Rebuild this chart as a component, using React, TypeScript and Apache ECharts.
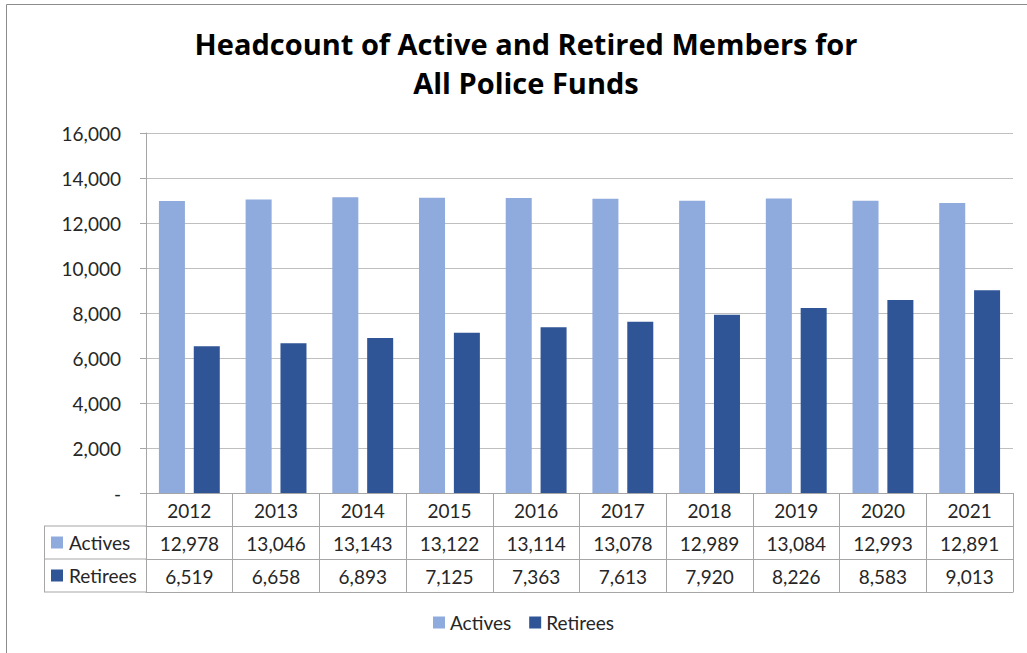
import React, { useEffect, useRef } from "react";
import * as echarts from "echarts";

const categories = ["2012", "2013", "2014", "2015", "2016", "2017", "2018", "2019", "2020", "2021"];
const actives = [12978, 13046, 13143, 13122, 13114, 13078, 12989, 13084, 12993, 12891];
const retirees = [6519, 6658, 6893, 7125, 7363, 7613, 7920, 8226, 8583, 9013];
const seriesNames = ["Actives", "Retirees"];
const yTicks = { min: 0, max: 16000, interval: 2000 };
const titleLines = ["Headcount of Active and Retired Members for", "All Police Funds"];

const COLORS = ["#8FAADC", "#2F5597"];
const FONT = "Lato, 'Open Sans', sans-serif";
const TITLE_FONT = "'Open Sans', Lato, sans-serif";
const TEXT = "#262626";
const LINE = "#A6A6A6";

const GRID_LEFT = 146;
const GRID_RIGHT = 14;
const GRID_TOP = 133;
const GRID_BOTTOM_Y = 493;
const ROW_H = 33;
const TABLE_LEFT = 44;

const fmt = (v: number) => v.toLocaleString("en-US");

export default function App() {
  const ref = useRef<HTMLDivElement>(null);
  useEffect(() => {
    if (!ref.current) return;
    const chart = echarts.init(ref.current, null, { renderer: "svg" });
    const H = 653;
    const rowTop = (i: number) => GRID_BOTTOM_Y + ROW_H * i;
    const labelStyle = { fontFamily: FONT, fontSize: 19, color: TEXT };
    const graphic: any[] = [
      {
        type: "rect",
        shape: { x: 6.5, y: 4.5, width: 1100, height: 700 },
        style: { fill: "none", stroke: "#8C8C8C", lineWidth: 1 },
        silent: true,
      },
      {
        type: "line",
        shape: { x1: TABLE_LEFT + 0.5, y1: rowTop(1), x2: TABLE_LEFT + 0.5, y2: rowTop(3) },
        style: { stroke: LINE, lineWidth: 1 },
      },
    ];
    [1, 2, 3].forEach((i) => {
      graphic.push({
        type: "line",
        shape: { x1: TABLE_LEFT, y1: rowTop(i), x2: GRID_LEFT, y2: rowTop(i) },
        style: { stroke: LINE, lineWidth: 1 },
      });
    });
    seriesNames.forEach((name, i) => {
      const cy = rowTop(i + 1) + ROW_H / 2;
      graphic.push({
        type: "rect",
        shape: { x: 51, y: cy - 6, width: 12, height: 12 },
        style: { fill: COLORS[i] },
      });
      graphic.push({
        type: "text",
        x: 69,
        y: cy,
        style: { text: name, fill: TEXT, font: `19px ${FONT}`, textVerticalAlign: "middle", verticalAlign: "middle" },
      });
    });

    const tableAxis = (offset: number, formatter: any, showLabel = true) => ({
      type: "category",
      data: categories,
      position: "bottom",
      offset,
      axisLine: { show: true, lineStyle: { color: LINE, width: 1 } },
      axisTick: { show: false },
      axisLabel: { show: showLabel, ...labelStyle, margin: 8, formatter },
      splitLine: { show: false },
    });

    chart.setOption({
      animation: false,
      backgroundColor: "#ffffff",
      title: {
        text: titleLines.join("\n"),
        left: 521,
        top: 19,
        textAlign: "center",
        textStyle: { fontFamily: TITLE_FONT, fontSize: 29, fontWeight: "bold", color: "#000000", lineHeight: 39 },
      },
      legend: {
        data: seriesNames,
        left: 428,
        top: 608,
        itemWidth: 12,
        itemHeight: 12,
        itemGap: 18,
        icon: "rect",
        textStyle: { fontFamily: FONT, fontSize: 19, color: TEXT },
      },
      grid: { left: GRID_LEFT, right: GRID_RIGHT, top: GRID_TOP, bottom: H - GRID_BOTTOM_Y, containLabel: false },
      xAxis: [
        {
          type: "category",
          data: categories,
          position: "bottom",
          axisLine: { show: true, lineStyle: { color: LINE, width: 1 } },
          axisTick: { show: true, length: ROW_H * 3, lineStyle: { color: LINE, width: 1 } },
          axisLabel: { ...labelStyle, margin: 8 },
        },
        tableAxis(ROW_H, (_v: string, idx: number) => fmt(actives[idx])),
        tableAxis(ROW_H * 2, (_v: string, idx: number) => fmt(retirees[idx])),
        tableAxis(ROW_H * 3, () => "", false),
      ],
      yAxis: {
        type: "value",
        min: yTicks.min,
        max: yTicks.max,
        interval: yTicks.interval,
        axisLine: { show: true, lineStyle: { color: LINE } },
        axisTick: { show: true, length: 6, lineStyle: { color: LINE } },
        splitLine: { lineStyle: { color: "#BFBFBF" } },
        axisLabel: {
          ...labelStyle,
          margin: 25,
          formatter: (v: number) => (v === 0 ? "-" : fmt(v)),
        },
      },
      series: [
        {
          name: seriesNames[0],
          type: "bar",
          data: actives,
          xAxisIndex: 0,
          barWidth: "30%",
          barGap: "34%",
          itemStyle: { color: COLORS[0] },
        },
        {
          name: seriesNames[1],
          type: "bar",
          data: retirees,
          xAxisIndex: 0,
          barWidth: "30%",
          barGap: "34%",
          itemStyle: { color: COLORS[1] },
        },
      ],
      graphic,
    });
    return () => chart.dispose();
  }, []);
  return (
    <div
      ref={ref}
      style={{ position: "fixed", left: 0, top: 0, width: 1027, height: 653, background: "#fff" }}
    />
  );
}
